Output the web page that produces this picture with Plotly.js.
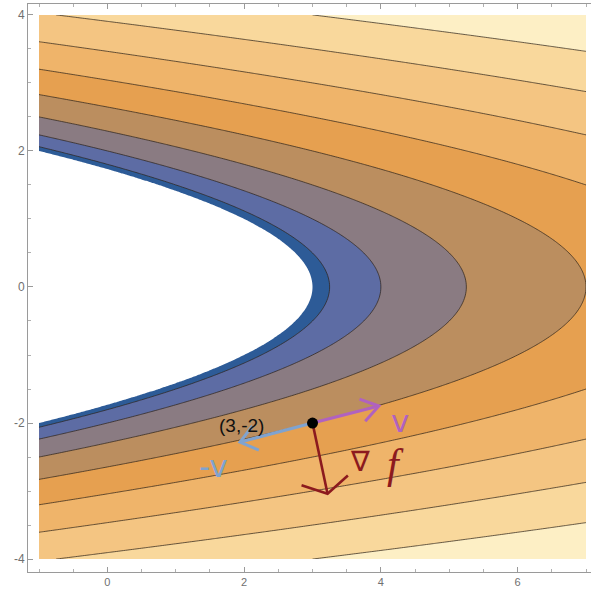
<!DOCTYPE html>
<html><head><meta charset="utf-8">
<script src="https://cdn.plot.ly/plotly-3.0.1.min.js"></script>
<style>html,body{margin:0;padding:0;background:#fff;overflow:hidden}</style>
</head><body><div id="chart" style="width:591px;height:589px"></div>
<script>
// Surface: f(x,y) = sqrt(x + y^2 - 3), undefined (white) where x + y^2 < 3
const xDomain = [-1, 7];
const yDomain = [-4, 4];
const gridSteps = 240;
const levelStart = 0.5, levelEnd = 4, levelStep = 0.5;
const bandColors = ['#2d5b97', '#5d6ca4', '#8a7b82', '#bb8e5f', '#e6a050', '#efb46a', '#f4c582', '#f9d89c', '#fdefc5'];
const xTickVals = [0, 2, 4, 6];
const xTickText = ['0', '2', '4', '6'];
const yTickVals = [-4, -2, 0, 2, 4];
const yTickText = ['-4', '-2', '0', '2', '4'];
const point = [3, -2];
const pointLabel = '(3,-2)';
const vVec = [0.97, 0.25];
const negVVec = [-1.06, -0.28];
const gradVec = [0.22, -1.04];

function radicand(x, y) { return x + y * y - 3; }
function surface(x, y) { return Math.sqrt(Math.max(radicand(x, y), 0)); }

const xs = [], ys = [];
for (let i = 0; i <= gridSteps; i++) {
  xs.push(xDomain[0] + (xDomain[1] - xDomain[0]) * i / gridSteps);
  ys.push(yDomain[0] + (yDomain[1] - yDomain[0]) * i / gridSteps);
}
const zs = ys.map(y => xs.map(x => surface(x, y)));
const zOutside = ys.map(y => xs.map(x => -radicand(x, y)));

const nb = bandColors.length - 1;
const colorscale = bandColors.map((c, k) => [k / nb, c]);

const fillTrace = {
  type: 'contour', x: xs, y: ys, z: zs,
  autocontour: false,
  contours: {start: levelStart, end: levelEnd, size: levelStep, coloring: 'fill', showlines: false},
  colorscale: colorscale, showscale: false, hoverinfo: 'skip', line: {width: 0}
};
// region where the function is undefined is left white
const blankTrace = {
  type: 'contour', x: xs, y: ys, z: zOutside,
  autocontour: false,
  contours: {start: 0, end: 0, size: 1, coloring: 'fill', showlines: false},
  colorscale: [[0, 'rgba(255,255,255,0)'], [1, 'rgb(255,255,255)']],
  showscale: false, hoverinfo: 'skip', line: {width: 0}
};
const lineTrace = {
  type: 'contour', x: xs, y: ys, z: zs,
  autocontour: false,
  contours: {start: levelStart, end: levelEnd, size: levelStep, coloring: 'none', showlines: true},
  line: {color: 'rgba(45,35,25,0.8)', width: 0.9},
  showscale: false, hoverinfo: 'skip'
};

function arrow(vec, headLen, headAngDeg, color, width) {
  const tx = point[0] + vec[0], ty = point[1] + vec[1];
  const L = Math.hypot(vec[0], vec[1]);
  const ux = -vec[0] / L, uy = -vec[1] / L;
  const a = headAngDeg * Math.PI / 180;
  const rot = (ang) => [ux * Math.cos(ang) - uy * Math.sin(ang), ux * Math.sin(ang) + uy * Math.cos(ang)];
  const r1 = rot(a), r2 = rot(-a);
  return {
    type: 'scatter', mode: 'lines', hoverinfo: 'skip', showlegend: false,
    x: [point[0], tx, null, tx + headLen * r1[0], tx, tx + headLen * r2[0]],
    y: [point[1], ty, null, ty + headLen * r1[1], ty, ty + headLen * r2[1]],
    line: {color: color, width: width}
  };
}

const negV = arrow(negVVec, 0.3, 38, '#7fa3d0', 3);
const posV = arrow(vVec, 0.3, 34, '#b062c0', 3);
const grad = arrow(gradVec, 0.4, 60, '#8c1a1e', 2.6);
const dot = {
  type: 'scatter', mode: 'markers', x: [point[0]], y: [point[1]], hoverinfo: 'skip', showlegend: false,
  marker: {color: '#000', size: 11}
};

const axisCommon = {
  showgrid: false, zeroline: false, showline: true, linecolor: '#9a9a9a', linewidth: 1,
  ticks: 'inside', ticklen: 5, tickcolor: '#9a9a9a', tickwidth: 1,
  tickmode: 'array',
  minor: {ticks: 'inside', ticklen: 3, dtick: 0.5, tick0: 0, tickcolor: '#b0b0b0', tickwidth: 1, showgrid: false}
};

const layout = {
  width: 591, height: 589,
  margin: {l: 28, r: 0, t: 4, b: 17},
  paper_bgcolor: '#fff', plot_bgcolor: '#fff',
  showlegend: false,
  xaxis: Object.assign({}, axisCommon, {range: [-1.161, 7.073], tickvals: xTickVals, ticktext: xTickText, mirror: 'ticks',
    tickfont: {family: 'Liberation Sans, Arial, sans-serif', size: 11, color: '#707070'}}),
  yaxis: Object.assign({}, axisCommon, {range: [-4.19, 4.16], tickvals: yTickVals, ticktext: yTickText, mirror: false,
    tickfont: {family: 'Liberation Sans, Arial, sans-serif', size: 12, color: '#707070'}}),
  annotations: [
    {x: 1.955, y: -2.03, xref: 'x', yref: 'y', text: pointLabel, showarrow: false,
     font: {family: 'Liberation Sans, Arial, sans-serif', size: 19, color: '#111'}},
    {x: 4.28, y: -1.97, xref: 'x', yref: 'y', text: 'v', showarrow: false,
     font: {family: 'DejaVu Sans, sans-serif', size: 31, color: '#b062c0'}},
    {x: 1.55, y: -2.63, xref: 'x', yref: 'y', text: '-v', showarrow: false,
     font: {family: 'DejaVu Sans, sans-serif', size: 31, color: '#7fa3d0'}},
    {x: 3.70, y: -2.56, xref: 'x', yref: 'y', text: '∇', showarrow: false,
     font: {family: 'DejaVu Sans, sans-serif', size: 28, color: '#8c1a1e'}},
    {x: 4.21, y: -2.60, xref: 'x', yref: 'y', text: '<i>f</i>', showarrow: false,
     font: {family: 'Liberation Serif, serif', size: 42, color: '#8c1a1e'}}
  ]
};

Plotly.newPlot('chart', [fillTrace, blankTrace, lineTrace, negV, posV, grad, dot], layout, {displayModeBar: false, staticPlot: true});
</script>
</body></html>
